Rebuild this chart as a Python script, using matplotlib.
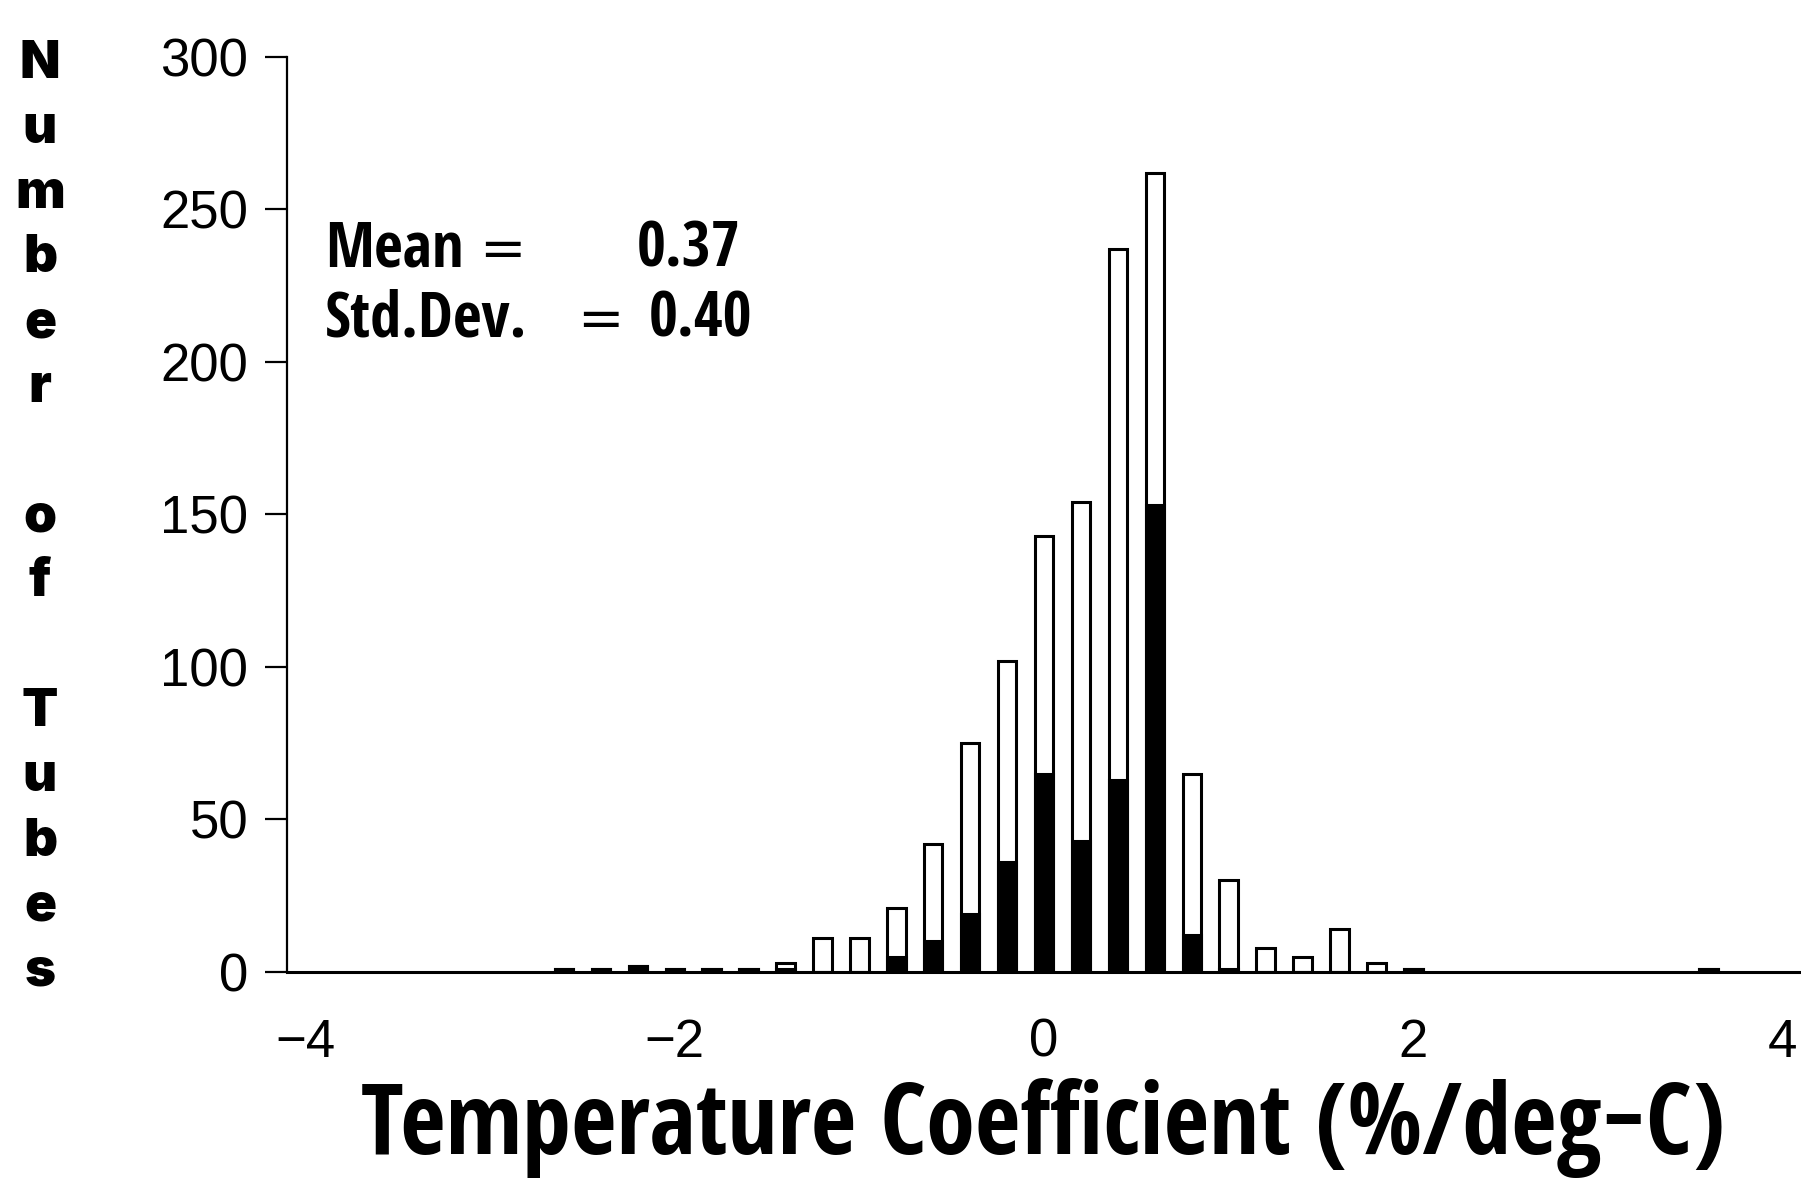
"""
Histogram of tube temperature coefficients, with the black part of
each bar showing the subset counted within the bin.
"""

import matplotlib
matplotlib.use("Agg")
import matplotlib.pyplot as plt

# bin centres (%/deg-C) and counts per bin
bin_centres = [-2.6, -2.4, -2.2, -2.0, -1.8, -1.6, -1.4, -1.2, -1.0, -0.8, -0.6, -0.4,
               -0.2, 0.0, 0.2, 0.4, 0.6, 0.8, 1.0, 1.2, 1.4, 1.6, 1.8, 2.0, 3.6]
total_counts = [1, 1, 2, 1, 1, 1, 3, 11, 11, 21, 42, 75,
                102, 143, 154, 237, 262, 65, 30, 8, 5, 14, 3, 1, 1]
black_counts = [1, 1, 2, 1, 1, 1, 1, 0, 0, 5, 10, 19,
                36, 65, 43, 63, 153, 12, 1, 0, 0, 0, 0, 1, 1]

mean_value = 0.37
std_value = 0.40

y_ticks = [0, 50, 100, 150, 200, 250, 300]
x_ticks = [-4, -2, 0, 2, 4]
ylabel_letters = list("Number") + [""] + list("of") + [""] + list("Tubes")

COND = "Open Sans Condensed"
TICKFONT = dict(family="Liberation Sans", fontsize=38)

fig = plt.figure(figsize=(18.01, 11.82), dpi=100)
fig.patch.set_facecolor("white")
ax = fig.add_axes([0.1594, 0.1777, 0.8406, 0.7741])

# outlined totals, then the black subset stacked from the baseline
ax.bar(bin_centres, total_counts, width=0.1, facecolor="white",
       edgecolor="black", linewidth=2.2, zorder=2)
ax.bar(bin_centres, black_counts, width=0.1, facecolor="black",
       edgecolor="black", linewidth=2.2, zorder=3)

ax.set_xlim(-4.1, 4.1)
ax.set_ylim(0, 300)
ax.set_xticks(x_ticks)
ax.set_yticks(y_ticks)
ax.set_xticklabels([f"{t:d}".replace("-", "\u2212") for t in x_ticks], **TICKFONT)
ax.set_yticklabels([str(t) for t in y_ticks], **TICKFONT)
ax.tick_params(axis="x", length=0, pad=33)
ax.tick_params(axis="y", direction="out", length=16, width=1.6, pad=12)

for side in ("top", "right"):
    ax.spines[side].set_visible(False)
ax.spines["left"].set_linewidth(1.6)
ax.spines["bottom"].set_linewidth(2.2)
ax.spines["bottom"].set_zorder(4)

# summary statistics
stat_rows = [("Mean", 0.142, mean_value, 0.2992, 0.771),
             ("Std.Dev.", 0.2067, std_value, 0.3071, 0.6945)]
for name, eq_x, val, val_x, y in stat_rows:
    ax.text(0.0251, y, name, transform=ax.transAxes, family=COND,
            fontweight="bold", fontsize=45, va="baseline", ha="left")
    ax.text(eq_x, y, "=", transform=ax.transAxes, family="DejaVu Sans",
            fontsize=40, va="baseline", ha="center")
    ax.text(val_x, y, f"{val:.2f}", transform=ax.transAxes, family=COND,
            fontweight="bold", fontsize=45, va="baseline", ha="right")

fig.text(0.579, 0.0237, "Temperature Coefficient (%/deg\u2212C)", family=COND,
         fontweight="bold", fontsize=71, ha="center", va="baseline")

# stacked vertical axis title
y0, step = 1 - 78 / 1182, 64.8 / 1182
for i, ch in enumerate(ylabel_letters):
    if ch:
        fig.text(0.0222, y0 - i * step, ch, family="Inter",
                 fontweight=900, fontsize=38, ha="center", va="baseline")

fig.savefig("out.png", dpi=100, facecolor="white")
